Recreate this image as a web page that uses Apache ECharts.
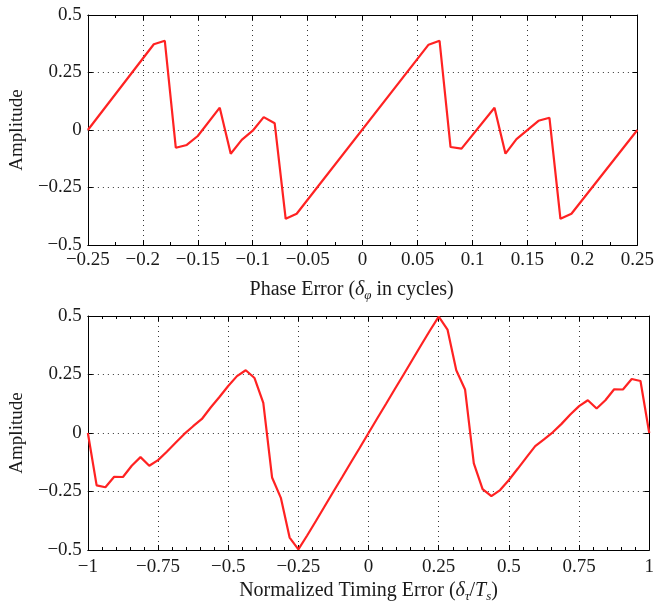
<!DOCTYPE html>
<html><head><meta charset="utf-8">
<script src="https://cdn.jsdelivr.net/npm/echarts@6/dist/echarts.min.js"></script>
<style>html,body{margin:0;padding:0;background:#fff}#c{width:657px;height:605px}</style>
</head><body><div id="c"></div><script>
// ---- data ----
const phaseX = [-0.25, -0.19, -0.18, -0.17, -0.16, -0.15, -0.13, -0.12, -0.11, -0.10, -0.09, -0.08, -0.07, -0.06,
                0.06, 0.07, 0.08, 0.09, 0.12, 0.13, 0.14, 0.16, 0.17, 0.18, 0.19, 0.25];
const phaseY = [0, 0.373, 0.388, -0.077, -0.065, -0.026, 0.097, -0.103, -0.043, -0.003, 0.056, 0.029, -0.386, -0.364,
                0.371, 0.388, -0.074, -0.081, 0.097, -0.103, -0.040, 0.040, 0.053, -0.386, -0.364, 0];
const timingX = [-1, -0.96875, -0.9375, -0.90625, -0.875, -0.84375, -0.8125, -0.78125, -0.75, -0.71875, -0.6875,
  -0.65625, -0.625, -0.59375, -0.5625, -0.53125, -0.5, -0.46875, -0.4375, -0.40625, -0.375, -0.34375, -0.3125,
  -0.28125, -0.25, -0.21875, -0.1875, -0.15625, -0.125, -0.09375, -0.0625, -0.03125, 0, 0.03125, 0.0625, 0.09375,
  0.125, 0.15625, 0.1875, 0.21875, 0.25, 0.28125, 0.3125, 0.34375, 0.375, 0.40625, 0.4375, 0.46875, 0.5, 0.53125,
  0.5625, 0.59375, 0.625, 0.65625, 0.6875, 0.71875, 0.75, 0.78125, 0.8125, 0.84375, 0.875, 0.90625, 0.9375,
  0.96875, 1];
const timingY = [0, -0.224, -0.232, -0.187, -0.188, -0.140, -0.103, -0.140, -0.116, -0.080, -0.042,
  -0.004, 0.029, 0.060, 0.109, 0.154, 0.201, 0.243, 0.268, 0.235, 0.129, -0.190, -0.277,
  -0.447, -0.497, -0.438, -0.376, -0.313, -0.250, -0.188, -0.125, -0.063, 0, 0.063, 0.125, 0.188,
  0.250, 0.313, 0.376, 0.438, 0.497, 0.442, 0.268, 0.186, -0.130, -0.240, -0.270, -0.244, -0.201, -0.153,
  -0.104, -0.056, -0.027, 0.003, 0.039, 0.079, 0.115, 0.140, 0.105, 0.140, 0.187, 0.186, 0.231,
  0.222, 0];
const phaseTicks = [-0.25, -0.2, -0.15, -0.1, -0.05, 0, 0.05, 0.1, 0.15, 0.2, 0.25];
const timingTicks = [-1, -0.75, -0.5, -0.25, 0, 0.25, 0.5, 0.75, 1];
const ampTicks = [-0.5, -0.25, 0, 0.25, 0.5];

// ---- chart ----
const FONT = 'Liberation Serif';
const TXT = '#1a1a1a';
const fmt = v => {
  if (Math.abs(v) < 1e-9) return '0';
  return String(+(+v).toFixed(4)).replace('-', '\u2212');
};
const rich = {
  n: {fontFamily: FONT, fontSize: 20, color: TXT, lineHeight: 24},
  i: {fontFamily: FONT, fontSize: 20, color: TXT, fontStyle: 'italic', lineHeight: 24},
  s: {fontFamily: FONT, fontSize: 13, color: TXT, fontStyle: 'italic', lineHeight: 13, verticalAlign: 'bottom'}
};
function xMain(grid, ticks, name, minorSplit, labelMargin, nameGap, namePad) {
  return {
    type: 'value', gridIndex: grid, position: 'bottom',
    min: ticks[0], max: ticks[ticks.length - 1], interval: ticks[1] - ticks[0],
    axisLine: {show: true, onZero: false, lineStyle: {color: '#000', width: 1}},
    axisTick: {show: true, inside: true, length: 5, lineStyle: {color: '#000'}},
    minorTick: {show: true, splitNumber: minorSplit, length: 3, lineStyle: {color: '#000'}},
    splitLine: {show: true, lineStyle: {color: '#333', width: 1, type: [1, 4]}},
    axisLabel: {formatter: fmt, fontFamily: FONT, fontSize: 19, color: TXT, margin: labelMargin},
    name: name, nameLocation: 'middle', nameGap: nameGap,
    nameTextStyle: {rich: rich, padding: namePad}
  };
}
function xTop(grid, ticks, minorSplit) {
  return {
    type: 'value', gridIndex: grid, position: 'top',
    min: ticks[0], max: ticks[ticks.length - 1], interval: ticks[1] - ticks[0],
    axisLine: {show: true, onZero: false, lineStyle: {color: '#000', width: 1}},
    axisTick: {show: true, inside: true, length: 5, lineStyle: {color: '#000'}},
    minorTick: {show: true, splitNumber: minorSplit, length: 3, lineStyle: {color: '#000'}},
    splitLine: {show: false}, axisLabel: {show: false}
  };
}
function yMain(grid, nameGap) {
  return {
    type: 'value', gridIndex: grid, position: 'left',
    min: ampTicks[0], max: ampTicks[ampTicks.length - 1], interval: ampTicks[1] - ampTicks[0],
    axisLine: {show: true, onZero: false, lineStyle: {color: '#000', width: 1}},
    axisTick: {show: true, inside: true, length: 5, lineStyle: {color: '#000'}},
    splitLine: {show: true, lineStyle: {color: '#333', width: 1, type: [1, 4]}},
    axisLabel: {formatter: fmt, fontFamily: FONT, fontSize: 19, color: TXT, margin: 6, padding: [4, 0, 0, 0]},
    name: 'Amplitude', nameLocation: 'middle', nameGap: nameGap,
    nameTextStyle: {fontFamily: FONT, fontSize: 19, color: TXT}
  };
}
function yRight(grid) {
  return {
    type: 'value', gridIndex: grid, position: 'right',
    min: ampTicks[0], max: ampTicks[ampTicks.length - 1], interval: ampTicks[1] - ampTicks[0],
    axisLine: {show: true, onZero: false, lineStyle: {color: '#000', width: 1}},
    axisTick: {show: true, inside: true, length: 5, lineStyle: {color: '#000'}},
    splitLine: {show: false}, axisLabel: {show: false}
  };
}
const chart = echarts.init(document.getElementById('c'), null, {renderer: 'canvas'});
chart.setOption({
  animation: false,
  backgroundColor: '#fff',
  grid: [
    {left: 86, top: 15, width: 555, height: 230},
    {left: 87, top: 316, width: 565, height: 234}
  ],
  xAxis: [
    xMain(0, phaseTicks, '{n|Phase Error (}{i|δ}{s|φ}{n| in cycles)}', 2, 6, 33, [0, 22, 0, 0]),
    xTop(0, phaseTicks, 2),
    xMain(1, timingTicks, '{n|Normalized Timing Error (}{i|δ}{s|τ}{n|/}{i|T}{s|s}{n|)}', 5, 8, 29, [0, 0, 0, 0]),
    xTop(1, timingTicks, 5)
  ],
  yAxis: [yMain(0, 59), yRight(0), yMain(1, 60), yRight(1)],
  series: [
    {type: 'line', xAxisIndex: 0, yAxisIndex: 0, showSymbol: false, symbol: 'none',
     lineStyle: {color: '#ff2222', width: 2.2}, data: phaseX.map((x, i) => [x, phaseY[i]])},
    {type: 'line', xAxisIndex: 2, yAxisIndex: 2, showSymbol: false, symbol: 'none',
     lineStyle: {color: '#ff2222', width: 2.2}, data: timingX.map((x, i) => [x, timingY[i]])}
  ]
});
</script></body></html>
